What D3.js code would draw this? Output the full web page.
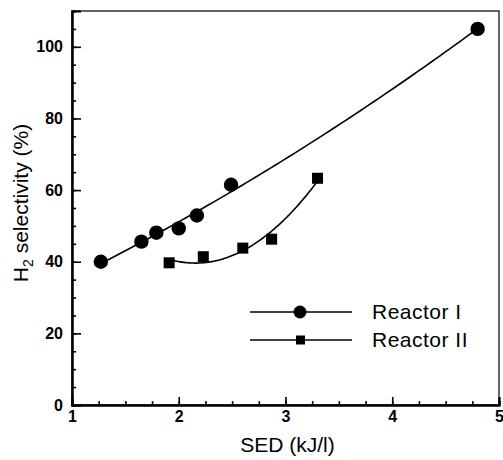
<!DOCTYPE html>
<html>
<head>
<meta charset="utf-8">
<script src="https://cdn.jsdelivr.net/npm/d3@7"></script>
<style>
  body { margin: 0; background: #fff; }
  text { font-family: "Liberation Sans", Arial, sans-serif; fill: #000; }
</style>
</head>
<body>
<div id="chart"></div>
<script>
// H2 selectivity vs specific energy density, two reactors
const reactorISed = [1.27, 1.65, 1.79, 2.00, 2.17, 2.49, 4.80];
const reactorISel = [40.0, 45.6, 48.1, 49.3, 52.9, 61.5, 105.0];
const reactorIISed = [1.91, 2.23, 2.60, 2.87, 3.30];
const reactorIISel = [39.7, 41.4, 43.8, 46.3, 63.3];
const xMajorTicks = [1, 2, 3, 4, 5];
const yMajorTicks = [0, 20, 40, 60, 80, 100];
const legendLabels = ['Reactor I', 'Reactor II'];

const width = 503, height = 460;
const margin = {top: 11, right: 4, bottom: 55, left: 72};

const svg = d3.select('#chart').append('svg')
    .attr('width', width)
    .attr('height', height);

const x = d3.scaleLinear().domain([1, 5]).range([margin.left, width - margin.right]);
const y = d3.scaleLinear().domain([0, 110]).range([height - margin.bottom, margin.top]);

// quadratic least-squares fit, used for the smooth trend lines
function quadFit(xs, ys) {
    const n = xs.length;
    let s = [0, 0, 0, 0, 0], t = [0, 0, 0];
    for (let i = 0; i < n; i++) {
        for (let k = 0; k < 5; k++) s[k] += Math.pow(xs[i], k);
        for (let k = 0; k < 3; k++) t[k] += ys[i] * Math.pow(xs[i], k);
    }
    const A = [[s[0], s[1], s[2], t[0]], [s[1], s[2], s[3], t[1]], [s[2], s[3], s[4], t[2]]];
    for (let c = 0; c < 3; c++) {
        for (let r = c + 1; r < 3; r++) {
            const f = A[r][c] / A[c][c];
            for (let k = c; k < 4; k++) A[r][k] -= f * A[c][k];
        }
    }
    const coef = [0, 0, 0];
    for (let r = 2; r >= 0; r--) {
        let v = A[r][3];
        for (let k = r + 1; k < 3; k++) v -= A[r][k] * coef[k];
        coef[r] = v / A[r][r];
    }
    return v => coef[0] + coef[1] * v + coef[2] * v * v;
}

function fitPoints(xs, ys) {
    const f = quadFit(xs, ys);
    const lo = d3.min(xs), hi = d3.max(xs);
    return d3.range(0, 81).map(i => {
        const v = lo + (hi - lo) * i / 80;
        return [v, f(v)];
    });
}

const line = d3.line().x(d => x(d[0])).y(d => y(d[1])).curve(d3.curveLinear);

// frame
svg.append('rect')
    .attr('x', margin.left)
    .attr('y', margin.top)
    .attr('width', width - margin.right - margin.left)
    .attr('height', height - margin.bottom - margin.top)
    .attr('fill', 'none')
    .attr('stroke', '#000')
    .attr('stroke-width', 1.2);

// axes: minor ticks then major ticks, all pointing inward
const gx = svg.append('g').attr('transform', `translate(0,${y(0)})`);
gx.call(d3.axisBottom(x).tickValues(d3.range(1, 5.01, 0.25)).tickSize(-4).tickFormat(''));
gx.append('g').call(d3.axisBottom(x).tickValues(xMajorTicks).tickSize(-8).tickPadding(6).tickFormat(d3.format('d')));

const gy = svg.append('g').attr('transform', `translate(${x(1)},0)`);
gy.call(d3.axisLeft(y).tickValues(d3.range(0, 106, 5)).tickSize(-4).tickFormat(''));
gy.append('g').call(d3.axisLeft(y).tickValues(yMajorTicks).tickSize(-9).tickPadding(9).tickFormat(d3.format('d')));

svg.selectAll('.domain').attr('stroke-width', 2);
svg.selectAll('.tick line').attr('stroke-width', 1.6);
svg.selectAll('.tick text')
    .attr('font-size', '16px')
    .attr('font-weight', 'bold')
    .attr('font-family', '"Liberation Sans", Arial, sans-serif');

// axis titles
svg.append('text')
    .attr('x', (x(1) + x(5)) / 2 + 2)
    .attr('y', 452)
    .attr('text-anchor', 'middle')
    .attr('font-size', '21px')
    .text('SED (kJ/l)');

const yTitle = svg.append('text')
    .attr('transform', `translate(28,${(y(0) + y(110)) / 2 - 5}) rotate(-90)`)
    .attr('text-anchor', 'middle')
    .attr('font-size', '21px');
yTitle.append('tspan').text('H');
yTitle.append('tspan').attr('font-size', '14px').attr('dy', '5').text('2');
yTitle.append('tspan').attr('dy', '-5').text(' selectivity (%)');

// fitted curves
svg.append('path')
    .datum(fitPoints(reactorISed, reactorISel))
    .attr('d', line)
    .attr('fill', 'none')
    .attr('stroke', '#000')
    .attr('stroke-width', 1.6);

svg.append('path')
    .datum(fitPoints(reactorIISed, reactorIISel))
    .attr('d', line)
    .attr('fill', 'none')
    .attr('stroke', '#000')
    .attr('stroke-width', 1.6);

// data markers
svg.append('g').selectAll('circle')
    .data(reactorISed.map((v, i) => [v, reactorISel[i]]))
    .enter()
    .append('circle')
    .attr('cx', d => x(d[0]))
    .attr('cy', d => y(d[1]))
    .attr('r', 7.2)
    .attr('fill', '#000');

const sq = 11;
svg.append('g').selectAll('rect')
    .data(reactorIISed.map((v, i) => [v, reactorIISel[i]]))
    .enter()
    .append('rect')
    .attr('x', d => x(d[0]) - sq / 2)
    .attr('y', d => y(d[1]) - sq / 2)
    .attr('width', sq)
    .attr('height', sq)
    .attr('fill', '#000');

// legend
const legend = svg.append('g').attr('transform', 'translate(250,312)');
legendLabels.forEach((label, i) => {
    const row = legend.append('g').attr('transform', `translate(0,${i * 28})`);
    row.append('line')
        .attr('x1', 0).attr('x2', 102)
        .attr('stroke', '#000')
        .attr('stroke-width', 1.4);
    if (i === 0) {
        row.append('circle').attr('cx', 50).attr('r', 6.5).attr('fill', '#000');
    } else {
        row.append('rect').attr('x', 46).attr('y', -4.5).attr('width', 9).attr('height', 9).attr('fill', '#000');
    }
    row.append('text')
        .attr('x', 122)
        .attr('dy', '0.35em')
        .attr('font-size', '21px')
        .attr('letter-spacing', '0.5px')
        .text(label);
});
</script>
</body>
</html>
